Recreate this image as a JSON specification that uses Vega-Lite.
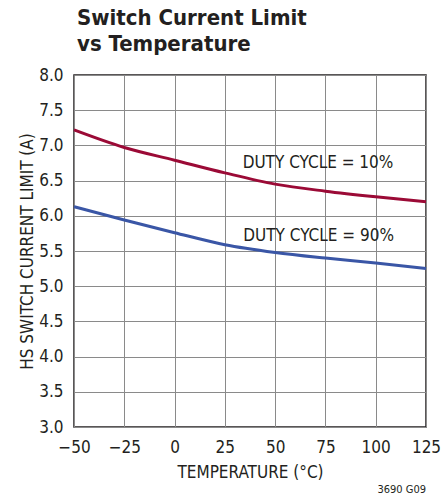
{
  "$schema": "https://vega.github.io/schema/vega-lite/v6.json",
  "width": 352,
  "height": 352,
  "autosize": "none",
  "padding": {"left": 74, "top": 75, "right": 15, "bottom": 72},
  "background": "white",
  "title": {
    "text": ["Switch Current Limit", "vs Temperature"],
    "anchor": "start",
    "frame": "group",
    "font": "DejaVu Sans Condensed",
    "fontSize": 22,
    "fontWeight": "bold",
    "lineHeight": 26,
    "color": "#231f20",
    "baseline": "alphabetic",
    "offset": 23,
    "dx": 3,
    "dy": 30
  },
  "config": {
    "view": {"stroke": "#231f20", "strokeWidth": 1.5},
    "axis": {
      "domain": false,
      "ticks": false,
      "grid": true,
      "gridColor": "#8a8a8a",
      "gridWidth": 1,
      "labelFont": "DejaVu Sans Condensed",
      "labelFontSize": 17,
      "labelColor": "#231f20",
      "titleFont": "DejaVu Sans Condensed",
      "titleFontSize": 17,
      "titleFontWeight": "normal",
      "titleColor": "#231f20"
    }
  },
  "datasets": {
    "curves": [
      {"temp": -50, "current": 7.22, "duty": "10%"},
      {"temp": -25, "current": 6.97, "duty": "10%"},
      {"temp": 0, "current": 6.79, "duty": "10%"},
      {"temp": 25, "current": 6.61, "duty": "10%"},
      {"temp": 50, "current": 6.45, "duty": "10%"},
      {"temp": 75, "current": 6.35, "duty": "10%"},
      {"temp": 100, "current": 6.27, "duty": "10%"},
      {"temp": 125, "current": 6.2, "duty": "10%"},
      {"temp": -50, "current": 6.13, "duty": "90%"},
      {"temp": -25, "current": 5.94, "duty": "90%"},
      {"temp": 0, "current": 5.76, "duty": "90%"},
      {"temp": 25, "current": 5.59, "duty": "90%"},
      {"temp": 50, "current": 5.48, "duty": "90%"},
      {"temp": 75, "current": 5.4, "duty": "90%"},
      {"temp": 100, "current": 5.33, "duty": "90%"},
      {"temp": 125, "current": 5.25, "duty": "90%"}
    ],
    "labels": [
      {"temp": 71.3, "current": 6.75, "text": "DUTY CYCLE = 10%"},
      {"temp": 71.6, "current": 5.71, "text": "DUTY CYCLE = 90%"}
    ],
    "note": [
      {"temp": 125, "current": 2.1, "text": "3690 G09"}
    ]
  },
  "encoding": {
    "x": {
      "field": "temp", "type": "quantitative",
      "scale": {"domain": [-50, 125], "nice": false},
      "axis": {"values": [-50, -25, 0, 25, 50, 75, 100, 125], "labelPadding": 12, "labelExpr": "replace(datum.label, '-', '−')", "title": "TEMPERATURE (°C)", "titlePadding": 9, "labelOverlap": false, "labelFlush": false}
    },
    "y": {
      "field": "current", "type": "quantitative",
      "scale": {"domain": [3, 8], "nice": false, "zero": false},
      "axis": {"values": [3, 3.5, 4, 4.5, 5, 5.5, 6, 6.5, 7, 7.5, 8], "format": ".1f", "labelPadding": 11, "title": "HS SWITCH CURRENT LIMIT (A)", "titlePadding": 2, "labelOverlap": false}
    }
  },
  "layer": [
    {
      "data": {"name": "curves"},
      "mark": {"type": "line", "strokeWidth": 3, "interpolate": "monotone"},
      "encoding": {
        "color": {
          "field": "duty", "type": "nominal",
          "scale": {"domain": ["10%", "90%"], "range": ["#9b0a36", "#3a56a6"]},
          "legend": null
        }
      }
    },
    {
      "data": {"name": "labels"},
      "mark": {"type": "text", "font": "DejaVu Sans Condensed", "fontSize": 17, "color": "#231f20", "align": "center", "baseline": "middle"},
      "encoding": {
        "text": {"field": "text"}
      }
    },
    {
      "data": {"name": "note"},
      "mark": {"type": "text", "font": "DejaVu Sans Condensed", "fontSize": 11, "color": "#231f20", "align": "right", "baseline": "middle", "clip": false},
      "encoding": {
        "text": {"field": "text"}
      }
    }
  ]
}
